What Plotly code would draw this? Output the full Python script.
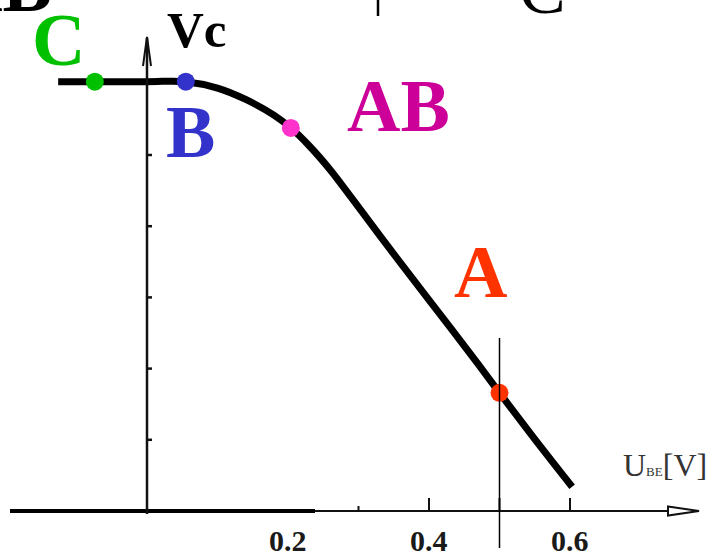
import plotly.graph_objects as go

# ---------------- data ----------------
ube = [-0.126, 0.000, 0.055, 0.100, 0.140, 0.180, 0.204, 0.230, 0.260, 0.290,
       0.330, 0.380, 0.430, 0.470, 0.500, 0.550, 0.603]
vc = [6.03, 6.03, 6.03, 5.94, 5.78, 5.56, 5.38, 5.13, 4.79, 4.40,
      3.87, 3.22, 2.58, 2.06, 1.66, 1.01, 0.34]

point_names = ["C", "B", "AB", "A"]
point_ube = [-0.074, 0.055, 0.204, 0.500]
point_vc = [6.03, 6.03, 5.38, 1.66]

x_tick_vals = [0.2, 0.4, 0.6]
x_tick_text = ["0.2", "0.4", "0.6"]
x_minor_ticks = [0.3, 0.4, 0.5, 0.6]
y_tick_vals = [1, 2, 3, 4, 5]

# ---------------- layout constants ----------------
W, H = 715, 557
OX, SX = 147.0, 705.0     # pixel of U_BE = 0, pixels per volt
OY, SY = 511.0, 71.2      # pixel of Vc = 0, pixels per unit

def xd(px):
    return (px - OX) / SX

def yd(py):
    return (OY - py) / SY

def xp(px):
    return px / W

def yp(py):
    return 1 - py / H

point_colors = ["#00C000", "#3333CC", "#FF33CC", "#FF3300"]
label_colors = ["#00C000", "#3333CC", "#CC0099", "#FF3300"]
label_pos = [(58, 40), (190, 132), (399, 106), (480, 272)]
SERIF = "Liberation Serif"

fig = go.Figure()

# characteristic curve
fig.add_trace(go.Scatter(x=ube, y=vc, mode="lines",
                         line=dict(color="black", width=7, shape="spline", smoothing=1.0),
                         hoverinfo="skip", showlegend=False))
# operating points
fig.add_trace(go.Scatter(x=point_ube, y=point_vc, mode="markers",
                         marker=dict(color=point_colors, size=18),
                         hoverinfo="skip", showlegend=False, cliponaxis=False))

shapes = []
# x axis (thick part then thin part)
shapes.append(dict(type="line", x0=xd(10), x1=xd(315), y0=0, y1=0,
                   line=dict(color="black", width=4)))
shapes.append(dict(type="line", x0=xd(315), x1=xd(697), y0=0, y1=0,
                   line=dict(color="#111", width=2)))
# x arrowhead
shapes.append(dict(type="path",
                   path=f"M {xd(668)},{yd(506.5)} L {xd(699)},{yd(511)} L {xd(668)},{yd(515.5)} Z",
                   line=dict(color="#111", width=2), fillcolor="white"))
# y axis
shapes.append(dict(type="line", x0=0, x1=0, y0=yd(514), y1=yd(38),
                   line=dict(color="#111", width=2.5)))
# y arrowhead
shapes.append(dict(type="path",
                   path=f"M {xd(143)},{yd(66)} L {xd(147)},{yd(37)} L {xd(151)},{yd(66)}",
                   line=dict(color="#111", width=2)))
# y ticks
for t in y_tick_vals:
    shapes.append(dict(type="line", x0=0, x1=xd(OX + 5), y0=t, y1=t,
                       line=dict(color="#111", width=2.5)))
# x ticks (pointing up)
for t in x_minor_ticks:
    ln = 5 if t < 0.35 else 13
    shapes.append(dict(type="line", x0=t, x1=t, y0=0, y1=yd(OY - ln),
                       line=dict(color="#111", width=2)))
# thin vertical marker line at U_BE = 0.5
shapes.append(dict(type="line", x0=point_ube[3], x1=point_ube[3],
                   y0=yd(548), y1=yd(338), line=dict(color="black", width=1.5)))
# clipped remnant stroke at the top
shapes.append(dict(type="line", xref="paper", yref="paper",
                   x0=xp(378), x1=xp(378), y0=yp(0), y1=yp(16),
                   line=dict(color="black", width=2.5)))

annotations = []
for name, col, (px, py) in zip(point_names, label_colors, label_pos):
    annotations.append(dict(text=name, xref="paper", yref="paper",
                            x=xp(px), y=yp(py), xanchor="center", yanchor="middle",
                            showarrow=False,
                            font=dict(family=SERIF, size=74, color=col, weight="bold")))
# axis titles
annotations.append(dict(text="Vc", xref="paper", yref="paper",
                        x=xp(196), y=yp(30), xanchor="center", yanchor="middle",
                        showarrow=False,
                        font=dict(family=SERIF, size=51, color="black", weight="bold")))
annotations.append(dict(text="U<span style='font-size:13px'>BE</span>[V]",
                        xref="paper", yref="paper",
                        x=xp(665), y=yp(465), xanchor="center", yanchor="middle",
                        showarrow=False,
                        font=dict(family=SERIF, size=32, color="#333333")))
# x tick labels
for v, t in zip(x_tick_vals, x_tick_text):
    annotations.append(dict(text=t, xref="x", yref="paper",
                            x=v, y=yp(540), xanchor="center", yanchor="middle",
                            showarrow=False,
                            font=dict(family=SERIF, size=30, color="#1a1a1a", weight="bold")))
# clipped remnants of neighbouring text at the top edge
annotations.append(dict(text="AB", xref="paper", yref="paper",
                        x=xp(0), y=yp(-14), xanchor="center", yanchor="middle",
                        showarrow=False,
                        font=dict(family=SERIF, size=74, color="black", weight="bold")))
annotations.append(dict(text="C", xref="paper", yref="paper",
                        x=xp(542), y=yp(-10), xanchor="center", yanchor="middle",
                        showarrow=False,
                        font=dict(family=SERIF, size=70, color="black")))

fig.update_layout(
    width=W, height=H,
    margin=dict(l=0, r=0, t=0, b=0),
    paper_bgcolor="white", plot_bgcolor="white",
    xaxis=dict(range=[xd(0), xd(W)], visible=False, fixedrange=True),
    yaxis=dict(range=[yd(H), yd(0)], visible=False, fixedrange=True),
    shapes=shapes, annotations=annotations,
    showlegend=False, hovermode=False,
)

fig.write_html("out.html", config={"displayModeBar": False},
               post_script="document.body.style.margin='0';document.body.style.overflow='hidden';")
